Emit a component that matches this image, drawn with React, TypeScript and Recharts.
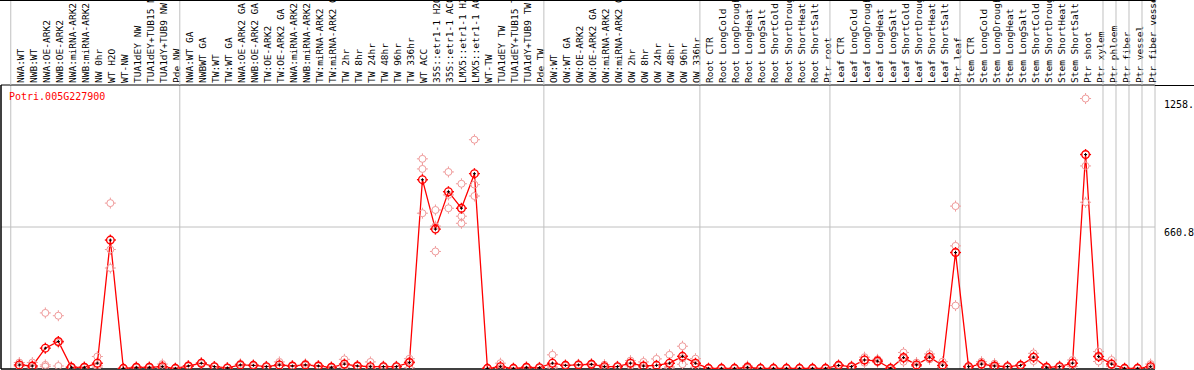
import React from "react";
import { ComposedChart, Line, Scatter, XAxis, YAxis, ReferenceLine } from "recharts";

// sample names, in plotting order
const CATEGORIES = [
  "NWA:WT", "NWB:WT", "NWA:OE-ARK2", "NWB:OE-ARK2", "NWA:miRNA-ARK2", "NWB:miRNA-ARK2",
  "NW 0hr", "WT H2O", "WT-NW", "TUA1dEY NW", "TUA1dEY+TUB15 NW", "TUA1dY+TUB9 NW", "Pde NW",
  "NWA:WT GA", "NWBWT GA", "TW:WT", "TW:WT GA", "NWA:OE-ARK2 GA", "NWB:OE-ARK2 GA",
  "TW:OE-ARK2", "TW:OE-ARK2 GA", "NWA:miRNA-ARK2 GA", "NWB:miRNA-ARK2 GA", "TW:miRNA-ARK2",
  "TW:miRNA-ARK2 GA", "TW 2hr", "TW 8hr", "TW 24hr", "TW 48hr", "TW 96hr", "TW 336hr", "WT ACC",
  "35S::etr1-1 H2O", "35S::etr1-1 ACC", "LMX5::etr1-1 H2O", "LMX5::etr1-1 ACC", "WT-TW",
  "TUA1dEY TW", "TUA1dEY+TUB15 TW", "TUA1dY+TUB9 TW", "Pde TW",
  "OW:WT", "OW:WT GA", "OW:OE-ARK2", "OW:OE-ARK2 GA", "OW:miRNA-ARK2", "OW:miRNA-ARK2 GA",
  "OW 2hr", "OW 8hr", "OW 24hr", "OW 48hr", "OW 96hr", "OW 336hr",
  "Root CTR", "Root LongCold", "Root LongDrought", "Root LongHeat", "Root LongSalt",
  "Root ShortCold", "Root ShortDrought", "Root ShortHeat", "Root ShortSalt", "Ptr root",
  "Leaf CTR", "Leaf LongCold", "Leaf LongDrought", "Leaf LongHeat", "Leaf LongSalt",
  "Leaf ShortCold", "Leaf ShortDrought", "Leaf ShortHeat", "Leaf ShortSalt", "Ptr leaf",
  "Stem CTR", "Stem LongCold", "Stem LongDrought", "Stem LongHeat", "Stem LongSalt",
  "Stem ShortCold", "Stem ShortDrought", "Stem ShortHeat", "Stem ShortSalt", "Ptr shoot",
  "Ptr xylem", "Ptr phloem", "Ptr fiber", "Ptr vessel", "Ptr fiber vessel",
];

// mean expression per sample
const MEANS = [
  19, 14, 97, 128, 8, 8, 27, 600, 3, 8, 8, 11, 3,
  14, 27, 11, 5, 19, 17, 11, 19, 14, 19, 14, 8, 23, 14, 11, 11, 11, 30, 881,
  651, 825, 748, 909, 3, 11, 3, 8, 6,
  27, 17, 19, 22, 11, 11, 27, 14, 17, 27, 59, 27,
  3, 3, 3, 8, 3, 3, 3, 3, 3, 3,
  17, 11, 42, 37, 3, 53, 19, 55, 17, 542,
  11, 23, 14, 11, 17, 55, 8, 11, 27, 998, 58,
  23, 3, 3, 11,
];

// replicates
const REP_A = [
  30, 30, 261, 248, 8, 10, 58, 772, 2, 8, 8, 23, 2,
  16, 30, 12, 6, 24, 20, 12, 33, 16, 24, 16, 10, 45, 16, 33, 14, 13, 48, 978,
  740, 917, 862, 1067, 2, 27, 2, 10, 8,
  66, 20, 22, 25, 20, 13, 39, 33, 47, 66, 106, 48,
  2, 2, 2, 14, 2, 2, 2, 2, 2, 2,
  20, 14, 55, 45, 2, 77, 30, 70, 34, 758,
  14, 34, 25, 14, 20, 73, 10, 14, 42, 1258.6, 81,
  42, 2, 2, 23,
];
const REP_B = [
  14, 6, 11, 14, 6, 6, 15, 556, 3, 6, 10, 6, 4,
  12, 24, 10, 4, 16, 14, 9, 12, 12, 16, 12, 6, 16, 12, 0, 9, 10, 36, 931,
  665, 810, 711, 858, 4, 4, 3, 8, 5,
  10, 15, 17, 20, 8, 10, 27, 5, 2, 10, 50, 25,
  3, 3, 3, 5, 3, 3, 3, 3, 3, 3,
  15, 10, 42, 35, 3, 48, 14, 50, 10, 573,
  10, 20, 10, 10, 15, 55, 8, 10, 27, 945, 58,
  15, 3, 3, 5,
];
const REP_C = [
  13, 6, 19, 122, 10, 8, 8, 470, 4, 10, 6, 4, 3,
  14, 27, 11, 5, 17, 17, 12, 12, 14, 17, 14, 8, 8, 14, 0, 10, 10, 6, 725,
  547, 748, 678, 805, 3, 2, 4, 6, 5,
  5, 16, 18, 21, 5, 10, 15, 4, 2, 5, 22, 8,
  4, 4, 4, 5, 4, 4, 4, 4, 4, 4,
  16, 9, 29, 31, 4, 34, 13, 45, 7, 295,
  9, 15, 7, 9, 16, 37, 6, 9, 12, 776, 35,
  12, 4, 4, 5,
];

const GROUP_STARTS = [0, 13, 41, 53, 63, 73, 84, 85, 86, 87, 88];
const Y_TICKS = [0, 660.8, 1258.6];
const Y_MAX = 1321.6;
const GENE = "Potri.005G227900";

const W = 1194;
const H = 370;
const HEADER_H = 85;
const BAND = 13;
const OFFSET = 0.66;
const MONO = '"DejaVu Sans Mono", "Liberation Mono", monospace';
const GRID = "#c0c0c0";

const meanRows = MEANS.map((v, i) => ({ x: i + OFFSET, v }));
const repRows = [REP_A, REP_B, REP_C].flatMap(rep => rep.map((v, i) => ({ x: i + OFFSET, v })));

function HeaderTick(props: any) {
  const { x, payload } = props;
  const i = Math.round(payload.value - OFFSET);
  const left = x - OFFSET * BAND;
  return (
    <g>
      {GROUP_STARTS.includes(i) && (
        <line x1={left} x2={left} y1={0} y2={HEADER_H} stroke={GRID} />
      )}
      {i === CATEGORIES.length - 1 && (
        <line x1={left + BAND} x2={left + BAND} y1={0} y2={HEADER_H} stroke={GRID} />
      )}
      <text
        x={x + 5}
        y={HEADER_H - 2}
        transform={`rotate(-90, ${x + 5}, ${HEADER_H - 2})`}
        textAnchor="start"
        fontFamily={MONO}
        fontSize={9.5}
        fill="#000"
      >
        {CATEGORIES[i]}
      </text>
    </g>
  );
}

function ValueTick(props: any) {
  const { x, y, payload } = props;
  const isZero = payload.value === 0;
  return (
    <text x={x + 1} y={isZero ? y - 3 : y + 9} fontFamily={MONO} fontSize={10} fill="#000">
      {String(payload.value)}
    </text>
  );
}

function RepMark(props: any) {
  const { cx, cy } = props;
  if (cx == null || cy == null) return null;
  return (
    <g stroke="#ef9a9a" fill="none" strokeWidth={1}>
      <circle cx={cx} cy={cy} r={3.5} />
      <line x1={cx - 5.5} x2={cx - 3.5} y1={cy} y2={cy} />
      <line x1={cx + 3.5} x2={cx + 5.5} y1={cy} y2={cy} />
      <line x1={cx} x2={cx} y1={cy - 5.5} y2={cy - 3.5} />
      <line x1={cx} x2={cx} y1={cy + 3.5} y2={cy + 5.5} />
    </g>
  );
}

function MeanMark(props: any) {
  const { cx, cy } = props;
  if (cx == null || cy == null) return null;
  return (
    <g>
      <g stroke="#ff0000" fill="none" strokeWidth={1.4}>
        <circle cx={cx} cy={cy} r={3.8} />
        <line x1={cx - 5.5} x2={cx - 3.8} y1={cy} y2={cy} />
        <line x1={cx + 3.8} x2={cx + 5.5} y1={cy} y2={cy} />
        <line x1={cx} x2={cx} y1={cy - 5.5} y2={cy - 3.8} />
        <line x1={cx} x2={cx} y1={cy + 3.8} y2={cy + 5.5} />
      </g>
      <g stroke="#000" strokeWidth={1}>
        <line x1={cx - 1.5} x2={cx + 1.5} y1={cy} y2={cy} />
        <line x1={cx} x2={cx} y1={cy - 1.5} y2={cy + 1.5} />
      </g>
    </g>
  );
}

export default function App() {
  return (
    <div style={{ position: "absolute", left: 0, top: 0, width: W, height: H, background: "#fff" }}>
      <ComposedChart
        width={W}
        height={H}
        data={meanRows}
        margin={{ top: 0, right: 0, bottom: 1, left: 1 }}
      >
        <XAxis
          dataKey="x"
          type="number"
          orientation="top"
          height={HEADER_H}
          domain={[-0.75, CATEGORIES.length]}
          ticks={meanRows.map(r => r.x)}
          interval={0}
          tickLine={false}
          axisLine={{ stroke: "#000" }}
          tick={<HeaderTick />}
          allowDataOverflow
        />
        <YAxis
          orientation="right"
          width={39}
          domain={[0, Y_MAX]}
          ticks={Y_TICKS}
          axisLine={false}
          tickLine={false}
          tick={<ValueTick />}
          allowDataOverflow
        />
        {GROUP_STARTS.map(b => (
          <ReferenceLine key={b} x={b} stroke={GRID} strokeWidth={1} />
        ))}
        <ReferenceLine y={660.8} stroke={GRID} strokeWidth={1} />
        <ReferenceLine y={0} stroke="#000" strokeWidth={1.5} />
        <ReferenceLine x={-0.75} stroke="#000" strokeWidth={1.5} />
        <Scatter
          data={repRows}
          dataKey="v"
          shape={<RepMark />}
          isAnimationActive={false}
        />
        <Line
          dataKey="v"
          stroke="#ff0000"
          strokeWidth={1.3}
          dot={<MeanMark />}
          activeDot={false}
          isAnimationActive={false}
        />
      </ComposedChart>
      <div style={{ position: "absolute", left: 0, top: 0, width: 1155, height: 1, background: "#000" }} />
      <div style={{ position: "absolute", left: 1155, top: HEADER_H, width: W - 1155, height: 1, background: "#000" }} />
      <div
        style={{
          position: "absolute",
          left: 9,
          top: 91,
          fontFamily: MONO,
          fontSize: 10,
          lineHeight: "12px",
          color: "#ff0000",
        }}
      >
        {GENE}
      </div>
    </div>
  );
}
